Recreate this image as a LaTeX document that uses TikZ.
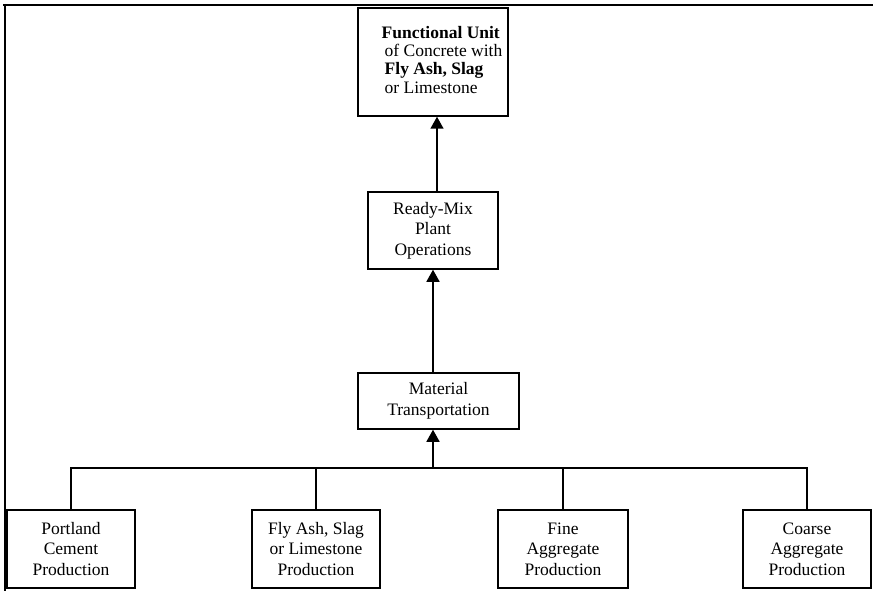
\documentclass[tikz,border=0pt]{standalone}
\usepackage{fontspec}
\setmainfont{Liberation Serif}
\usetikzlibrary{arrows.meta}

\begin{document}
\begin{tikzpicture}[x=1pt, y=-1pt, line width=1.5pt,
    box/.style = {shape=rectangle, draw, align=center, inner sep=0pt,
      font=\fontsize{17.5}{20.5}\selectfont},
    arr/.style = {-{Triangle[width=13pt,length=12pt]}}]
    \useasboundingbox (0,0) rectangle (873,591);
    \draw[line width=2pt] (3,5) -- (873,5);
    \draw[line width=2pt] (5,4) -- (5,591);
    \node[box, minimum width=150, minimum height=108] (func) at (433,62)
      {\hspace*{18pt}\fontsize{17.5}{18.4}\selectfont\begin{tabular}{@{}l@{}}
        \textbf{Functional Unit}\\ \hspace*{3pt}of Concrete with\\
        \hspace*{3pt}\textbf{Fly Ash, Slag}\\ \hspace*{3pt}or Limestone
      \end{tabular}};
    \node[box, minimum width=130, minimum height=77] (rm) at (433,230.5)
      {Ready-Mix\\Plant\\Operations};
    \node[box, minimum width=161, minimum height=56] (mat) at (438.5,401)
      {Material\\Transportation};
    \node[box, minimum width=128, minimum height=78] (pc) at (71,549)
      {Portland\\Cement\\Production};
    \node[box, minimum width=128, minimum height=78] (fa) at (316,549)
      {Fly Ash, Slag\\or Limestone\\Production};
    \node[box, minimum width=130, minimum height=78] (fine) at (563,549)
      {Fine\\Aggregate\\Production};
    \node[box, minimum width=128, minimum height=78] (coarse) at (807,549)
      {Coarse\\Aggregate\\Production};
    \coordinate (bus) at (433,468);
    \foreach \n in {pc,fa,fine,coarse}
      \draw (\n.north) |- (bus);
    \draw[arr] (bus) -- (bus |- mat.south);
    \draw[arr] (rm.south |- mat.north) -- (rm.south);
    \draw[arr] ([xshift=4]rm.north) -- ([xshift=4]rm.north |- func.south);
\end{tikzpicture}
\end{document}
